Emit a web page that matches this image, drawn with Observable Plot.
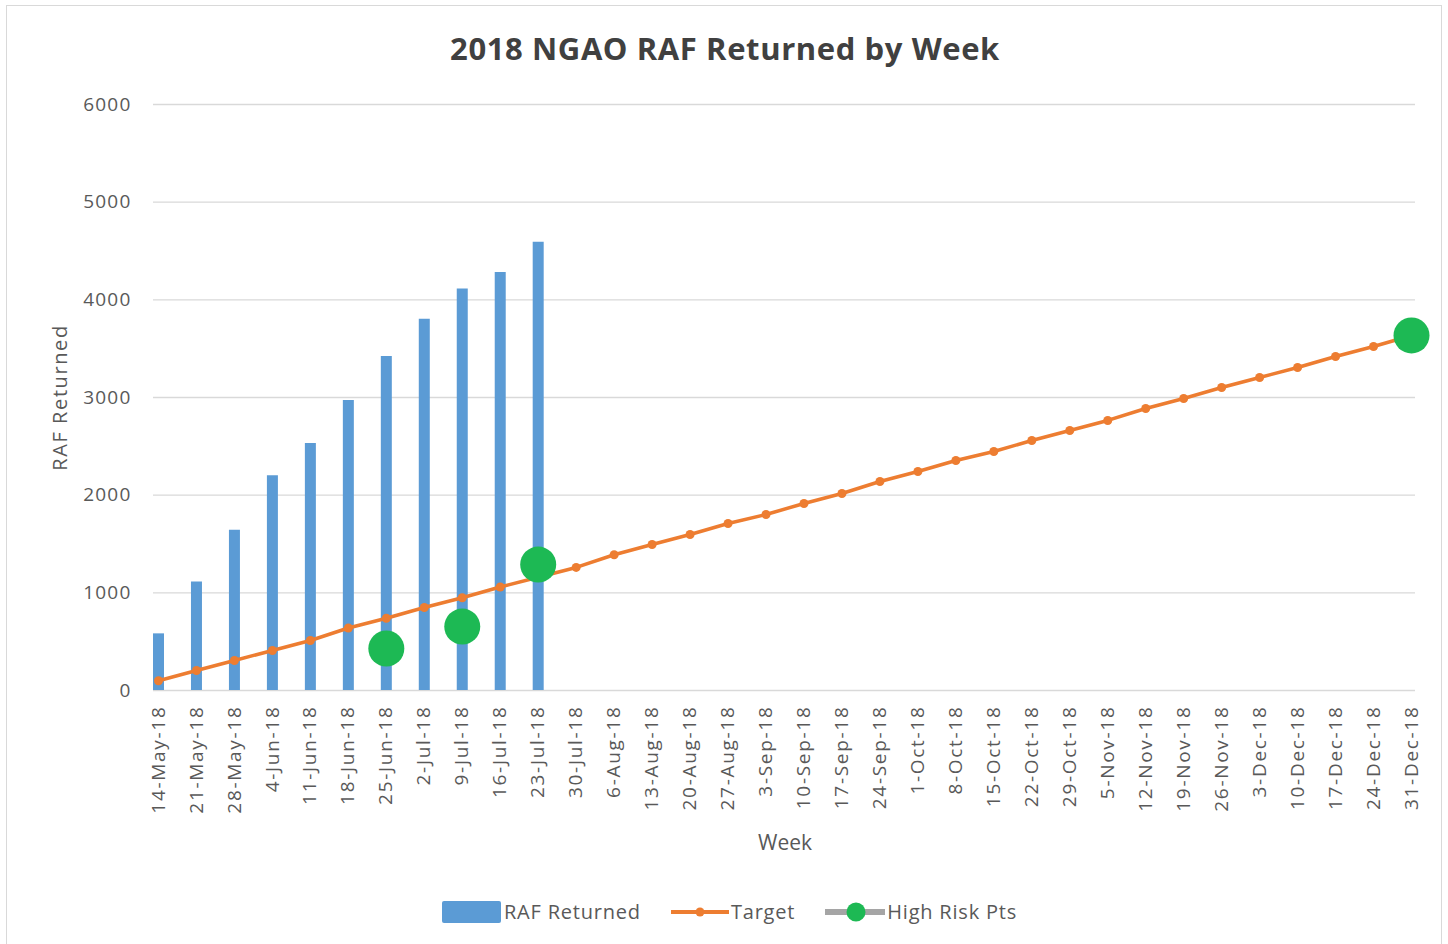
<!DOCTYPE html>
<html><head><meta charset="utf-8">
<script src="https://cdn.jsdelivr.net/npm/d3@7"></script>
<script src="https://cdn.jsdelivr.net/npm/@observablehq/plot@0.6"></script>
<style>
body{margin:0;background:#fff;font-family:"Open Sans",sans-serif;}
#frame{position:absolute;left:6px;top:5px;width:1436px;height:950px;border:1px solid #d9d9d9;box-sizing:border-box}
#title{position:absolute;left:0;top:27px;width:1450px;text-align:center;font-weight:bold;font-size:31px;letter-spacing:0.6px;color:#404040;line-height:42px}
#chart{position:absolute;left:0;top:0}
#legend{position:absolute;left:0;top:898px;width:1459px;display:flex;justify-content:center;align-items:center;font-size:20px;letter-spacing:0.8px;color:#595959}
#legend .item{display:flex;align-items:center;margin:0 15px}
#legend svg{display:block}
g[aria-label="x-axis tick label"] text{letter-spacing:1.7px}
g[aria-label="y-axis tick label"] text{letter-spacing:1.2px}
</style></head>
<body>
<div id="frame"></div>
<div id="chart"></div>
<div id="title">2018 NGAO RAF Returned by Week</div>
<div id="legend"></div>
<script>
const weeks = ["14-May-18","21-May-18","28-May-18","4-Jun-18","11-Jun-18","18-Jun-18","25-Jun-18","2-Jul-18","9-Jul-18","16-Jul-18","23-Jul-18","30-Jul-18","6-Aug-18","13-Aug-18","20-Aug-18","27-Aug-18","3-Sep-18","10-Sep-18","17-Sep-18","24-Sep-18","1-Oct-18","8-Oct-18","15-Oct-18","22-Oct-18","29-Oct-18","5-Nov-18","12-Nov-18","19-Nov-18","26-Nov-18","3-Dec-18","10-Dec-18","17-Dec-18","24-Dec-18","31-Dec-18"];
const rafWeeks = weeks.slice(0, 11);
const rafReturned = [580,1110,1640,2200,2530,2970,3420,3800,4110,4280,4590];
const target = [100,205,307,410,512,640,740,850,950,1060,1160,1260,1390,1495,1597,1710,1802,1915,2017,2140,2242,2355,2447,2560,2662,2765,2887,2990,3102,3205,3307,3420,3522,3635];
const highRiskWeeks = ["25-Jun-18","9-Jul-18","23-Jul-18","31-Dec-18"];
const highRiskValues = [430,655,1290,3635];
const yTicks = [0,1000,2000,3000,4000,5000,6000];

const colors = {raf:"#5b9bd5", target:"#ed7d31", risk:"#1db954", grid:"#d9d9d9", text:"#595959"};

const rafData = rafWeeks.map((w,i)=>({week:w, value:rafReturned[i]}));
const targetData = weeks.map((w,i)=>({week:w, value:target[i]}));
const riskData = highRiskWeeks.map((w,i)=>({week:w, value:highRiskValues[i]}));

const plot = Plot.plot({
  width:1448, height:870,
  marginTop:104, marginBottom:180, marginLeft:158, marginRight:37,
  style:{fontFamily:"'Open Sans',sans-serif", fontSize:"19px", color:colors.text, background:"transparent"},
  x:{type:"point", domain:weeks, padding:0},
  y:{domain:[0,6000]},
  marks:[
    Plot.ruleY(yTicks, {stroke:colors.grid, strokeWidth:1.3, insetLeft:-5, insetRight:-4}),
    Plot.axisY(yTicks, {tickSize:0, tickPadding:27, label:null, fill:colors.text, fontSize:19, tickFormat:d=>String(d)}),
    Plot.axisX({tickRotate:-90, tickSize:0, tickPadding:15, label:null, fill:colors.text, fontSize:19}),
    Plot.ruleX(rafData, {x:"week", y1:0, y2:"value", stroke:colors.raf, strokeWidth:11}),
    Plot.lineY(targetData, {x:"week", y:"value", stroke:colors.target, strokeWidth:3.5}),
    Plot.dot(targetData, {x:"week", y:"value", fill:colors.target, r:4.5}),
    Plot.dot(riskData, {x:"week", y:"value", fill:colors.risk, r:18}),
    Plot.text(["Week"], {frameAnchor:"bottom", dy:159, fill:colors.text, fontSize:21, textAnchor:"middle"}),
    Plot.text(["RAF Returned"], {frameAnchor:"left", dx:-98, rotate:-90, fill:colors.text, fontSize:20, textAnchor:"middle"})
  ]
});
d3.select(plot).selectAll("text").filter(function(){return this.textContent==="RAF Returned";}).style("letter-spacing","1.6px");
document.getElementById("chart").appendChild(plot);

const legend = document.getElementById("legend");
legend.innerHTML = `
<div class="item"><svg width="62" height="22"><rect x="0" y="0" width="59" height="22" rx="2" fill="${colors.raf}"/></svg><span>RAF Returned</span></div>
<div class="item"><svg width="60" height="22"><line x1="0" x2="58" y1="11" y2="11" stroke="${colors.target}" stroke-width="4"/><circle cx="29" cy="11" r="4.5" fill="${colors.target}"/></svg><span>Target</span></div>
<div class="item"><svg width="62" height="22"><line x1="0" x2="60" y1="11" y2="11" stroke="#a5a5a5" stroke-width="6"/><circle cx="31" cy="11" r="9.5" fill="${colors.risk}"/></svg><span>High Risk Pts</span></div>`;
</script>
</body></html>
